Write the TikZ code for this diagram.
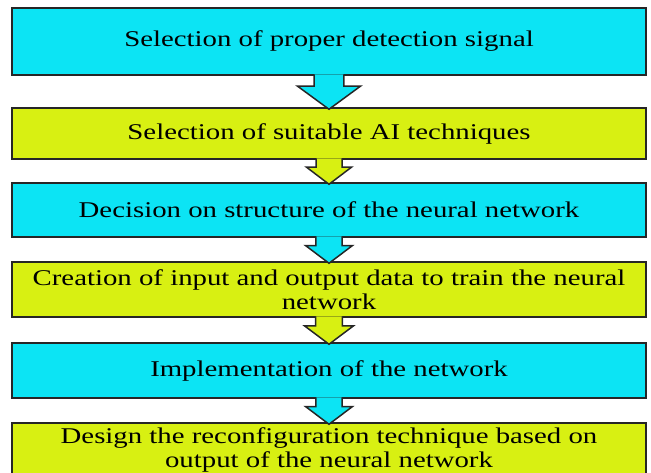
\documentclass[tikz,border=0pt]{standalone}
\usepackage{fontspec}
\setmainfont{Liberation Serif}[FakeStretch=1.28]
\usetikzlibrary{calc}

\definecolor{stepcyan}{RGB}{12,228,244}
\definecolor{steplime}{RGB}{216,240,18}

\tikzset{
  stage/.style={draw=black!85, line width=1.5pt, minimum width=634pt,
    inner sep=0pt, align=center, font=\fontsize{22.5}{24}\selectfont},
  cyanstage/.style={stage, fill=stepcyan},
  limestage/.style={stage, fill=steplime},
  flow/.style={draw=black!85, line width=1.5pt, line join=miter},
}

% block arrow hanging from the bottom of #1 down to the top of #2, filled with #3
\newcommand\flowarrow[3]{%
  \path[flow, fill=#3] let \p1=(#1.south), \p2=(#2.north),
      \n1={\y1-\y2}, \n2={0.2*\n1+8.5}, \n3={\n1} in
    (\x1-\n2, \y1+1.5pt) -- (\x1-\n2, \y1-0.33*\n1) -- (\x1-\n3, \y1-0.33*\n1)
    -- (\x1, \y2-2pt) -- (\x1+\n3, \y1-0.33*\n1) -- (\x1+\n2, \y1-0.33*\n1)
    -- (\x1+\n2, \y1+1.5pt);}

\begin{document}
\begin{tikzpicture}
  \useasboundingbox (0,0) rectangle (651pt,-472pt);
  \clip (0,0) rectangle (651pt,-472pt);

  \node[cyanstage, minimum height=67pt] (s1) at (329pt,-41.5pt)
    {Selection of proper detection signal};
  \node[limestage, minimum height=51pt] (s2) at (329pt,-133.5pt)
    {Selection of suitable AI techniques};
  \node[cyanstage, minimum height=54pt] (s3) at (329pt,-210pt)
    {Decision on structure of the neural network};
  \node[limestage, minimum height=55pt] (s4) at (329pt,-289.5pt)
    {Creation of input and output data to train the neural\\network};
  \node[cyanstage, minimum height=55pt] (s5) at (329pt,-370.5pt)
    {Implementation of the network};
  \node[limestage, minimum height=54pt] (s6) at (329pt,-450pt)
    {Design the reconfiguration technique based on\\output of the neural network};

  \flowarrow{s1}{s2}{stepcyan}
  \flowarrow{s2}{s3}{steplime}
  \flowarrow{s3}{s4}{stepcyan}
  \flowarrow{s4}{s5}{steplime}
  \flowarrow{s5}{s6}{stepcyan}
\end{tikzpicture}
\end{document}
